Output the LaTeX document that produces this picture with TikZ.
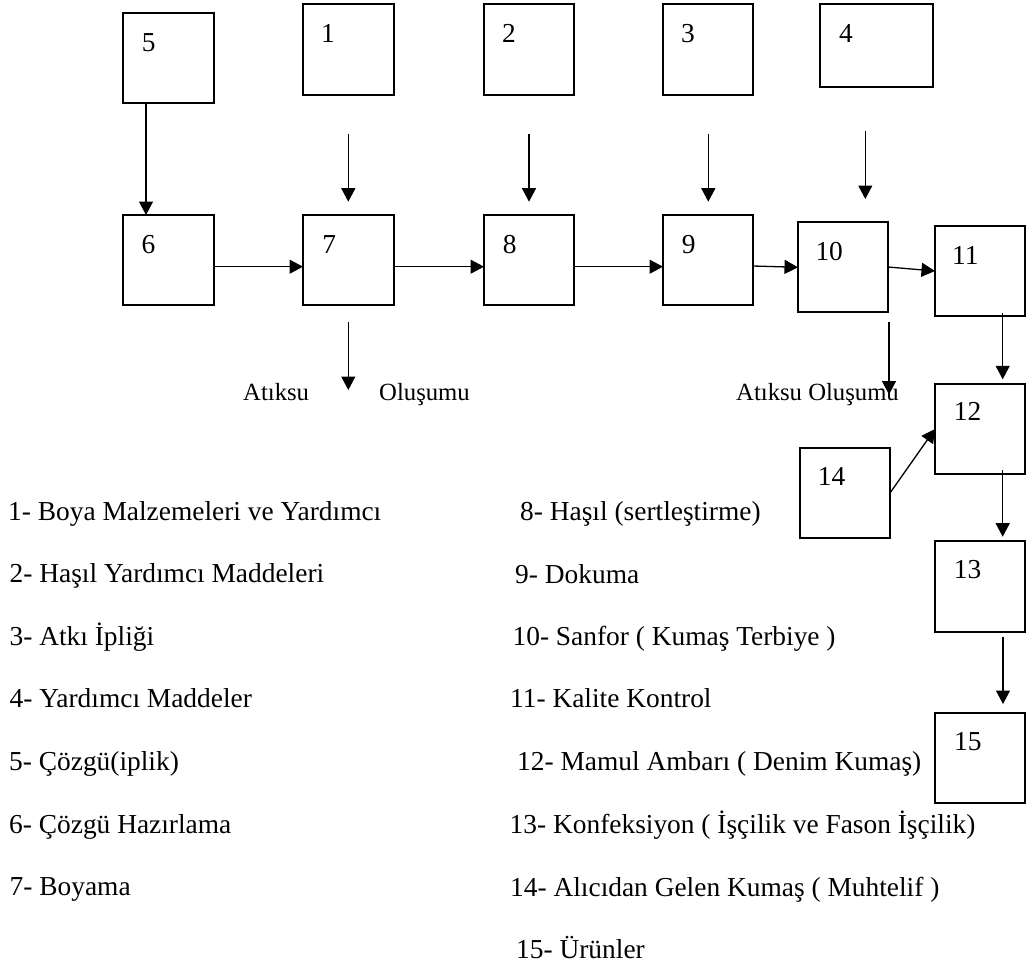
\documentclass[tikz,border=0pt]{standalone}
\usepackage{fontspec}
\setmainfont{Liberation Serif}
\usetikzlibrary{arrows.meta}
\begin{document}
\begin{tikzpicture}[x=1pt,y=-1pt,
  font=\fontsize{27.4}{32}\selectfont,
  box/.style={draw, line width=1.3pt, inner sep=0pt, outer sep=0pt, minimum width=90pt, minimum height=90pt},
  arr/.style={line width=1.3pt, -{Triangle[width=14pt,length=13.5pt]}},
  num/.style={anchor=base west, inner sep=0pt},
  txt/.style={anchor=base west, inner sep=0pt},
  waste/.style={anchor=base west, inner sep=0pt, font=\fontsize{24.7}{29}\selectfont}]
\useasboundingbox[fill=white] (0,0) rectangle (1026,967);

% boxes
\node[box, minimum width=91pt] (b5) at (168.5,58) {};
\node[box, minimum width=91pt, minimum height=91pt] (b1) at (348.5,49.5) {};
\node[box, minimum height=91pt] (b2) at (529,49.5) {};
\node[box, minimum height=91pt] (b3) at (708,49.5) {};
\node[box, minimum width=113pt, minimum height=83pt] (b4) at (876.5,45.5) {};
\node[box, minimum width=91pt] (b6) at (168.5,260) {};
\node[box, minimum width=91pt] (b7) at (348.5,260) {};
\node[box] (b8) at (529,260) {};
\node[box] (b9) at (708,260) {};
\node[box] (b10) at (843,267) {};
\node[box] (b11) at (980,271) {};
\node[box] (b12) at (980,429) {};
\node[box] (b14) at (845,493) {};
\node[box, minimum height=91pt] (b13) at (980,586.5) {};
\node[box] (b15) at (980,758) {};

% box numbers
\node[num] (n5) at ([shift={(18.7,38.7)}]b5.north west) {5};
\node[num] (n1) at ([shift={(18,38.7)}]b1.north west) {1};
\node[num] (n2) at ([shift={(18,38.7)}]b2.north west) {2};
\node[num] (n3) at ([shift={(18,38.7)}]b3.north west) {3};
\node[num] (n4) at ([shift={(19,38.7)}]b4.north west) {4};
\node[num] (n6) at ([shift={(18.3,38.3)}]b6.north west) {6};
\node[num] (n7) at ([shift={(19.2,38)}]b7.north west) {7};
\node[num] (n8) at ([shift={(18.6,38)}]b8.north west) {8};
\node[num] (n9) at ([shift={(18.7,38)}]b9.north west) {9};
\node[num] (n10) at ([shift={(17.3,38)}]b10.north west) {10};
\node[num] (n11) at ([shift={(17,38)}]b11.north west) {11};
\node[num] (n12) at ([shift={(18.7,36)}]b12.north west) {12};
\node[num] (n14) at ([shift={(17.7,37)}]b14.north west) {14};
\node[num] (n13) at ([shift={(18.7,37.3)}]b13.north west) {13};
\node[num] (n15) at ([shift={(19,37)}]b15.north west) {15};

% free arrow ends
\coordinate (s1) at (348.3,134);   \coordinate (e1) at (348.3,201.7);
\coordinate (s2) at (529,134);     \coordinate (e2) at (529,201.7);
\coordinate (s3) at (708.3,134);   \coordinate (e3) at (708.3,201.7);
\coordinate (s4) at (865.3,131.3); \coordinate (e4) at (865.3,199);
\coordinate (w7s) at (348.3,321.7); \coordinate (w7e) at (348.3,390);
\coordinate (w10s) at (889,321.7);  \coordinate (w10e) at (889,394.5);

% arrows
\draw[arr] (s1) -- (e1);
\draw[arr] (s2) -- (e2);
\draw[arr] (s3) -- (e3);
\draw[arr] (s4) -- (e4);
\draw[arr] (w7s) -- (w7e);
\draw[arr] (w10s) -- (w10e);
\draw[arr] ([shift={(23,0)}]b5.south west) -- ([shift={(23,0)}]b6.north west);
\draw[arr] ([shift={(0,6.7)}]b6.east) -- ([shift={(0,6.7)}]b7.west);
\draw[arr] ([shift={(0,6.7)}]b7.east) -- ([shift={(0,6.7)}]b8.west);
\draw[arr] ([shift={(0,6.7)}]b8.east) -- ([shift={(0,6.7)}]b9.west);
\draw[arr] ([shift={(0,6)}]b9.east) -- ([shift={(0,0.3)}]b10.west);
\draw[arr] (b10.east) -- (b11.west);
\draw[arr] ([shift={(22.7,-3.5)}]b11.south) -- ([shift={(22.7,-4.7)}]b12.north);
\draw[arr] ([shift={(22.7,-4)}]b12.south) -- ([shift={(22.7,-4.3)}]b13.north);
\draw[arr] ([shift={(23,4.7)}]b13.south) -- ([shift={(23,-9)}]b15.north);
\draw[arr] (b14.east) -- (b12.west);

% waste labels
\node[waste] (t1) at (243,400.7) {Atıksu};
\node[waste] (t2) at (379,400.7) {Oluşumu};
\node[waste] (t3) at (736,400) {Atıksu Oluşumu};

% legend left
\node[txt] (l1) at (8,520) {1- Boya Malzemeleri ve Yardımcı};
\node[txt] (l2) at (9.5,582.6) {2- Haşıl Yardımcı Maddeleri};
\node[txt] (l3) at (9.4,645.2) {3- Atkı İpliği};
\node[txt] (l4) at (9.5,707.8) {4- Yardımcı Maddeler};
\node[txt] (l5) at (9,770.4) {5- Çözgü(iplik)};
\node[txt] (l6) at (9,833) {6- Çözgü Hazırlama};
\node[txt] (l7) at (9.5,895.6) {7- Boyama};

% legend right
\node[txt] (r8) at (520,520) {8- Haşıl (sertleştirme)};
\node[txt] (r9) at (515,583) {9- Dokuma};
\node[txt] (r10) at (512.4,645) {10- Sanfor ( Kumaş Terbiye )};
\node[txt] (r11) at (510,707.7) {11- Kalite Kontrol};
\node[txt] (r12) at (517,770.7) {12- Mamul Ambarı ( Denim Kumaş)};
\node[txt] (r13) at (509.5,833.3) {13- Konfeksiyon ( İşçilik ve Fason İşçilik)};
\node[txt] (r14) at (510,896) {14- Alıcıdan Gelen Kumaş ( Muhtelif )};
\node[txt] (r15) at (516,958.3) {15- Ürünler};
\end{tikzpicture}
\end{document}
